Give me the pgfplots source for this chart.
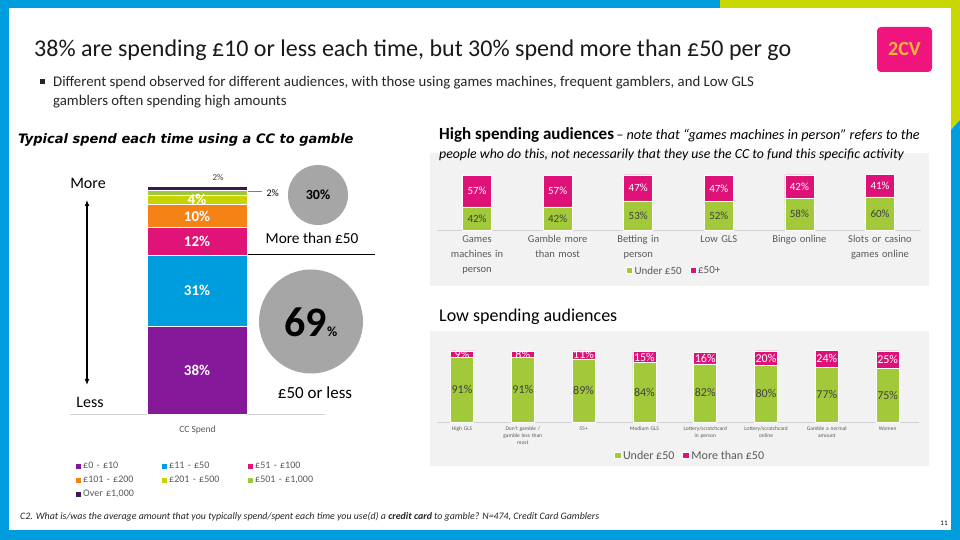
\documentclass[border=0pt]{standalone}
\usepackage{pgfplots}
\pgfplotsset{compat=1.18}
\usepackage{pgfplotstable}
\usepackage{fontspec}
\setmainfont{Carlito}
\newfontfamily\dvs{DejaVu Sans}
\usetikzlibrary{arrows.meta}

\definecolor{fblue}{RGB}{0,157,222}
\definecolor{fgreen}{RGB}{200,215,0}
\definecolor{cpurple}{RGB}{134,24,154}
\definecolor{cblue}{RGB}{0,157,222}
\definecolor{cmag}{RGB}{224,19,120}
\definecolor{corange}{RGB}{245,130,20}
\definecolor{cyel}{RGB}{200,212,0}
\definecolor{clgreen}{RGB}{160,200,60}
\definecolor{cdark}{RGB}{59,25,80}
\definecolor{ggreen}{RGB}{162,201,58}
\definecolor{gpink}{RGB}{222,17,120}
\definecolor{panel}{RGB}{242,242,242}
\definecolor{tgray}{RGB}{89,89,89}
\definecolor{dgray}{RGB}{64,64,64}
\definecolor{circ}{RGB}{166,166,166}
\definecolor{logopink}{RGB}{240,20,126}
\definecolor{logotext}{RGB}{245,184,61}

\pgfplotstableread{
x a b c d e f g
0 38 31 12 10 4 2 2
}\ccspend

\pgfplotstableread{
x under over
0 42 57
1 42 57
2 53 47
3 52 47
4 58 42
5 60 41
}\highaud

\pgfplotstableread{
x under over
0 91 9
1 91 8
2 89 11
3 84 15
4 82 16
5 80 20
6 77 24
7 75 25
}\lowaud

\begin{document}
\begin{tikzpicture}
\begin{scope}[x=1pt,y=1pt]
% frame
\fill[white] (0,0) rectangle (960,540);
\fill[fblue] (0,0) rectangle (9,540);
\fill[fblue] (0,532) rectangle (720,540);
\fill[fgreen] (720,532) rectangle (960,540);
\fill[fgreen] (951,540) -- (960,540) -- (960,420) -- (951,410) -- cycle;
\fill[fblue] (951,410) -- (960,420) -- (960,0) -- (951,0) -- cycle;
\fill[fblue] (0,0) rectangle (960,10);

% header
\node[anchor=base west, inner sep=0pt, text=black!90, font=\fontsize{24}{26}\selectfont] at (34,483) {38\% are spending £10 or less each time, but 30\% spend more than £50 per go};
\fill[black!85] (40,456) rectangle (45,461);
\node[anchor=base west, inner sep=0pt, align=left, text=black!85, font=\fontsize{14.8}{19}\selectfont] at (53,434) {Different spend observed for different audiences, with those using games machines, frequent gamblers, and Low GLS\\gamblers often spending high amounts};
\fill[logopink, rounded corners=4pt] (877,468) rectangle (932,513);
\node[text=logotext, font=\bfseries\fontsize{20}{20}\selectfont] at (904.5,490.5) {2CV};

% left section texts
\node[anchor=base west, inner sep=0pt] at (18,396) {\dvs\bfseries\itshape\fontsize{13}{15}\selectfont Typical spend each time using a CC to gamble};
\node[font=\fontsize{16}{17}\selectfont] at (88,357) {More};
\node[font=\fontsize{16}{17}\selectfont] at (90,138) {Less};
\draw[line width=1.3pt, {Latex[length=6pt,width=5pt]}-{Latex[length=6pt,width=5pt]}] (87,155) -- (87,340);
\fill[circ] (318,345) circle (30);
\node[font=\bfseries\fontsize{14}{14}\selectfont] at (318,345) {30\%};
\fill[circ] (311,218.5) circle (52);
\node[inner sep=0pt] at (311,218) {{\bfseries\fontsize{42}{42}\selectfont 69}{\bfseries\fontsize{14}{14}\selectfont\%}};
\node[font=\fontsize{15.3}{16}\selectfont] at (312,302) {More than £50};
\draw[line width=0.6pt] (247,286) -- (375,286);
\node[font=\fontsize{17}{18}\selectfont] at (315,147) {£50 or less};
\draw[gray, line width=0.5pt] (247,349) -- (262,349);
\node[anchor=west, font=\fontsize{10}{11}\selectfont] at (263,347) {2\%};
\node[font=\fontsize{9}{10}\selectfont, text=dgray] at (218,363) {2\%};

% panels and titles on right
\fill[panel] (430,254) rectangle (929,387);
\node[anchor=base west, inner sep=0pt] at (439,400) {{\bfseries\fontsize{17}{19}\selectfont High spending audiences} {\itshape\fontsize{14.2}{15}\selectfont -- note that “games machines in person” refers to the}};
\node[anchor=base west, inner sep=0pt] at (439,381) {\itshape\fontsize{13.8}{15}\selectfont people who do this, not necessarily that they use the CC to fund this specific activity};
\node[anchor=base west, inner sep=0pt] at (439,218) {\fontsize{18}{20}\selectfont Low spending audiences};
\fill[panel] (430,74) rectangle (929,209);

% footnote
\node[anchor=base west, inner sep=0pt, text=black!85] at (20,20) {\itshape\fontsize{9.9}{11}\selectfont C2. What is/was the average amount that you typically spend/spent each time you use(d) a \textbf{credit card} to gamble? N=474, Credit Card Gamblers};
\node[font=\fontsize{7}{8}\selectfont] at (944,17) {11};
\end{scope}

\begin{axis}[at={(197pt,126pt)}, anchor=origin, scale only axis, width=255pt, height=228pt,
  ybar stacked, bar width=100pt, xmin=-1.27, xmax=1.28, ymin=0, ymax=99,
  axis y line=none, axis x line*=bottom, axis line style={draw=black!18, line width=0.8pt, -},
  xtick=\empty, ytick=\empty, clip=false, point meta=explicit,
  /pgf/number format/assume math mode=true,
  xlabel={CC Spend}, xlabel style={at={(axis description cs:0.5,0)}, anchor=north, yshift=-8pt, font=\fontsize{9.5}{11}\selectfont, text=tgray},
  legend columns=3, legend cell align=left,
  legend style={at={(axis description cs:0.008,-0.189)}, anchor=north west, draw=none, fill=none, font=\fontsize{10}{12}\selectfont, text=tgray, nodes={text width=76pt, align=left, inner xsep=2pt, inner ysep=2.5pt, text height=7pt, text depth=2pt}, row sep=0pt},
  legend image code/.code={\fill[#1] (0pt,-2.5pt) rectangle (5.5pt,3pt);},
  every node near coord/.append style={anchor=center, font=\bfseries\fontsize{15}{15}\selectfont, text=white},
]
\addplot[fill=cpurple, draw=white, line width=0.5pt, nodes near coords={\pgfmathprintnumber{\pgfplotspointmeta}\%}] table[x=x,y=a,meta=a]{\ccspend};
\addlegendentry{£0 - £10}
\addplot[fill=cblue, draw=white, line width=0.5pt, nodes near coords={\pgfmathprintnumber{\pgfplotspointmeta}\%}] table[x=x,y=b,meta=b]{\ccspend};
\addlegendentry{£11 - £50}
\addplot[fill=cmag, draw=white, line width=0.5pt, nodes near coords={\pgfmathprintnumber{\pgfplotspointmeta}\%}] table[x=x,y=c,meta=c]{\ccspend};
\addlegendentry{£51 - £100}
\addplot[fill=corange, draw=white, line width=0.5pt, nodes near coords={\pgfmathprintnumber{\pgfplotspointmeta}\%}] table[x=x,y=d,meta=d]{\ccspend};
\addlegendentry{£101 - £200}
\addplot[fill=cyel, draw=white, line width=0.5pt, nodes near coords={\pgfmathprintnumber{\pgfplotspointmeta}\%}] table[x=x,y=e,meta=e]{\ccspend};
\addlegendentry{£201 - £500}
\addplot[fill=clgreen, draw=white, line width=0.5pt] table[x=x,y=f,meta=f]{\ccspend};
\addlegendentry{£501 - £1,000}
\addplot[fill=cdark, draw=white, line width=0.5pt] table[x=x,y=g,meta=g]{\ccspend};
\addlegendentry{Over £1,000}
\end{axis}

\begin{axis}[at={(477pt,310pt)}, anchor=origin, scale only axis, width=484pt, height=55pt,
  ybar stacked, bar width=29pt, xmin=-0.496, xmax=5.509, ymin=0, ymax=100,
  axis y line=none, axis x line*=bottom, axis line style={draw=black!18, line width=0.8pt, -},
  ytick=\empty, xtick=data, major tick length=0pt,
  xticklabels={{Games\\machines in\\person},{Gamble more\\than most},{Betting in\\person},{Low GLS},{Bingo online},{Slots or casino\\games online}},
  xticklabel style={font=\fontsize{10.5}{15}\selectfont, text=tgray, align=center, text width=80pt, yshift=-2pt},
  clip=false, point meta=explicit,
  /pgf/number format/assume math mode=true,
  nodes near coords={\pgfmathprintnumber{\pgfplotspointmeta}\%},
  every node near coord/.append style={anchor=center, font=\fontsize{11}{11}\selectfont},
  legend columns=2,
  legend style={at={(axis description cs:0.49,-0.745)}, anchor=center, draw=none, fill=none, font=\fontsize{11}{12}\selectfont, text=tgray, /tikz/every even column/.append style={column sep=6pt}},
  legend image code/.code={\fill[#1] (0pt,-2.5pt) rectangle (6pt,3.5pt);},
]
\addplot[fill=ggreen, draw=white, line width=0.5pt, every node near coord/.append style={text=dgray}] table[x=x,y=under,meta=under]{\highaud};
\addlegendentry{Under £50}
\addplot[fill=gpink, draw=white, line width=0.5pt, every node near coord/.append style={text=white}] table[x=x,y=over,meta=over]{\highaud};
\addlegendentry{£50+}
\end{axis}

\begin{axis}[at={(462pt,118pt)}, anchor=origin, scale only axis, width=482pt, height=71pt,
  ybar stacked, bar width=23pt, xmin=-0.411, xmax=7.516, ymin=0, ymax=100,
  axis y line=none, axis x line*=bottom, axis line style={draw=black!18, line width=0.8pt, -},
  ytick=\empty, xtick=data, major tick length=0pt,
  xticklabels={{High GLS},{Don't gamble /\\gamble less than\\most},{55+},{Medium GLS},{Lottery/scratchcard\\in person},{Lottery/scratchcard\\online},{Gamble a normal\\amount},{Women}},
  xticklabel style={font=\fontsize{5.5}{7}\selectfont, text=tgray, align=center, text width=58pt, yshift=-1pt},
  clip=false, point meta=explicit,
  /pgf/number format/assume math mode=true,
  nodes near coords={\pgfmathprintnumber{\pgfplotspointmeta}\%},
  every node near coord/.append style={anchor=center, font=\fontsize{12}{12}\selectfont},
  legend columns=2,
  legend style={at={(axis description cs:0.525,-0.479)}, anchor=center, draw=none, fill=none, font=\fontsize{12}{13}\selectfont, text=tgray, /tikz/every even column/.append style={column sep=6pt}},
  legend image code/.code={\fill[#1] (0pt,-2.5pt) rectangle (6.5pt,4pt);},
]
\addplot[fill=ggreen, draw=white, line width=0.5pt, every node near coord/.append style={text=dgray}] table[x=x,y=under,meta=under]{\lowaud};
\addlegendentry{Under £50}
\addplot[fill=gpink, draw=white, line width=0.5pt, every node near coord/.append style={text=white}] table[x=x,y=over,meta=over]{\lowaud};
\addlegendentry{More than £50}
\end{axis}

\pgfresetboundingbox
\useasboundingbox (0pt,0pt) rectangle (960pt,540pt);
\end{tikzpicture}
\end{document}
